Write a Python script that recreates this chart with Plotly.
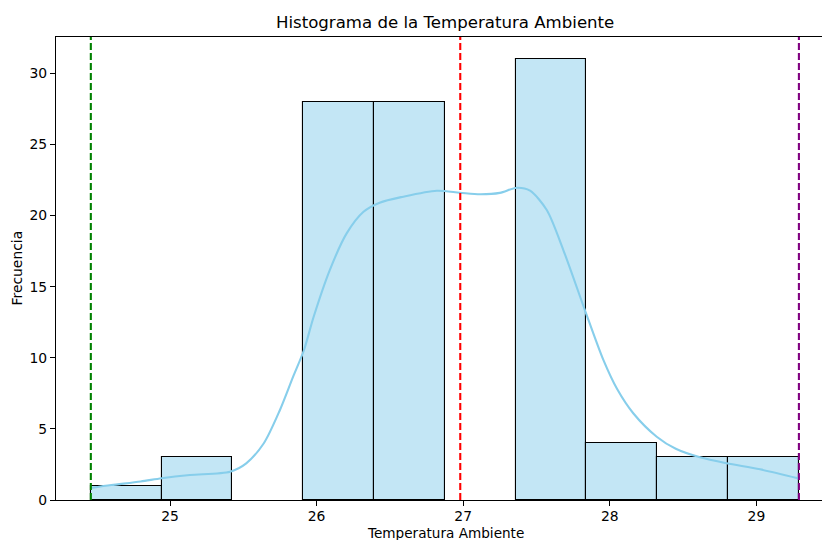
import plotly.graph_objects as go

# ---- data ----
bin_start = 24.46
bin_end = 29.29
counts = [1, 3, 0, 28, 28, 0, 31, 4, 3, 3]

kde_x = [24.46, 24.60, 24.80, 24.943, 25.136, 25.41, 25.52, 25.64, 25.75, 25.84,
         25.914, 25.98, 26.09, 26.205, 26.32, 26.43, 26.59, 26.82, 26.978, 27.115,
         27.25, 27.365, 27.456, 27.57, 27.683, 27.83, 27.956, 28.05, 28.16, 28.32,
         28.45, 28.615, 28.797, 29.025, 29.286]
kde_y = [0.85, 1.05, 1.30, 1.53, 1.76, 1.99, 2.58, 3.99, 6.33, 8.67,
         10.55, 12.89, 16.17, 18.75, 20.27, 20.91, 21.33, 21.75, 21.61, 21.50,
         21.60, 21.96, 21.75, 20.39, 17.58, 13.36, 9.85, 7.80, 6.10, 4.45,
         3.60, 3.00, 2.58, 2.16, 1.52]

min_val = 24.46
mean_val = 26.98
max_val = 29.29

title = "Histograma de la Temperatura Ambiente"
x_label = "Temperatura Ambiente"
y_label = "Frecuencia"
y_ticks = [0, 5, 10, 15, 20, 25, 30]
x_ticks = [25, 26, 27, 28, 29]

# ---- build ----
n = len(counts)
w = (bin_end - bin_start) / n
centers = [bin_start + w * (i + 0.5) for i in range(n)]
bar_vals = [c if c > 0 else None for c in counts]

font = "DejaVu Sans, Liberation Sans, sans-serif"

fig = go.Figure()
fig.add_trace(go.Bar(
    x=centers, y=bar_vals, width=[w] * n,
    marker=dict(color="rgba(135,206,235,0.5)", line=dict(color="black", width=1.1)),
    hoverinfo="skip", showlegend=False,
))
fig.add_trace(go.Scatter(
    x=kde_x, y=kde_y, mode="lines",
    line=dict(color="skyblue", width=2.1, shape="spline", smoothing=0.8),
    showlegend=False, hoverinfo="skip",
))

for val, col in [(min_val, "green"), (mean_val, "red"), (max_val, "purple")]:
    fig.add_shape(type="line", x0=val, x1=val, y0=0, y1=1, xref="x", yref="paper",
                  line=dict(color=col, width=2.1, dash="7px,3px"), layer="above")

fig.update_layout(
    width=822, height=540,
    margin=dict(l=56, r=0, t=37, b=40),
    paper_bgcolor="white", plot_bgcolor="white",
    bargap=0,
    font=dict(family=font, size=13.9, color="black"),
    title=dict(text=title, x=0.508, xref="paper", xanchor="center",
               y=1 - 22 / 540, yref="container", yanchor="middle",
               font=dict(size=16.6, family=font, color="black")),
    xaxis=dict(range=[24.2224, 29.4475], showgrid=False, zeroline=False,
               showline=True, linecolor="black", linewidth=1.1, mirror=True,
               ticks="outside", ticklen=5, tickwidth=1.1, tickcolor="black",
               ticklabelstandoff=-2,
               tickvals=x_ticks, ticktext=[str(t) for t in x_ticks],
               tickfont=dict(size=13.9)),
    yaxis=dict(range=[0, 32.56], showgrid=False, zeroline=False,
               showline=True, linecolor="black", linewidth=1.1, mirror=False,
               ticks="outside", ticklen=5, tickwidth=1.1, tickcolor="black",
               tickvals=y_ticks, ticktext=[str(t) for t in y_ticks],
               tickfont=dict(size=13.9)),
    annotations=[
        dict(text=x_label, xref="paper", yref="paper", x=0.508, y=0,
             xanchor="center", yanchor="top", yshift=-24, showarrow=False,
             borderpad=0,
             font=dict(size=13.6, family=font, color="black")),
        dict(text=y_label, xref="paper", yref="paper", x=0, y=0.5,
             xanchor="center", yanchor="middle", xshift=-40, textangle=-90,
             showarrow=False, font=dict(size=13.9, family=font, color="black")),
    ],
)

fig.write_html("out.html")
